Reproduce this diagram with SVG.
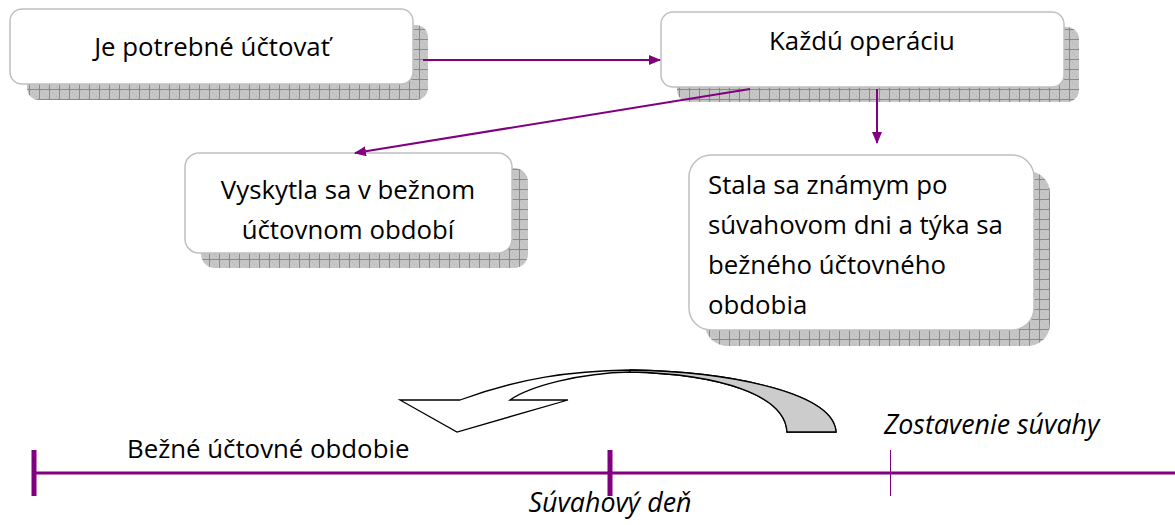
<svg xmlns="http://www.w3.org/2000/svg" width="1175" height="525" viewBox="0 0 1175 525">
  <defs>
    <!-- checked grey texture for the drop shadows -->
    <pattern id="grid" width="10" height="10" patternUnits="userSpaceOnUse">
      <rect width="10" height="10" fill="#c6c6c6"/>
      <rect x="0" y="0" width="1" height="1" fill="#b4b4b4"/>
      <rect x="2" y="2" width="1" height="1" fill="#b4b4b4"/>
      <rect x="4" y="4" width="1" height="1" fill="#b4b4b4"/>
      <rect x="6" y="6" width="1" height="1" fill="#b4b4b4"/>
      <rect x="8" y="8" width="1" height="1" fill="#b4b4b4"/>
      <path d="M0 9.5H10M9.5 0V10" stroke="#8a8a8a" stroke-width="1"/>
    </pattern>
    <marker id="ah" viewBox="0 0 12 10" refX="11" refY="5" markerWidth="12" markerHeight="10" markerUnits="userSpaceOnUse" orient="auto">
      <path d="M0 0L12 5L0 10Z" fill="#800080"/>
    </marker>
  </defs>
  <style>
    .shadow { fill: url(#grid); }
    .box { fill: #ffffff; stroke: #c0c0c0; stroke-width: 1.5; }
    .t { font-family: "Open Sans", Lato, sans-serif; font-size: 25.8px; fill: #000; }
    .c { text-anchor: middle; }
    .it { font-style: italic; font-size: 26.8px; }
    .link { stroke: #800080; stroke-width: 2; fill: none; marker-end: url(#ah); }
    .axis { stroke: #800080; fill: none; }
    .curl { stroke: #000; stroke-width: 1.3; stroke-linejoin: miter; }
  </style>

  <!-- nodes -->
  <g id="node-uctovat">
    <rect class="shadow" x="27" y="25" width="401" height="75" rx="12"/>
    <rect class="box" x="10" y="9" width="403" height="75" rx="12"/>
    <text class="t c" x="212" y="56">Je potrebné účtovať</text>
  </g>

  <g id="node-operacia">
    <rect class="shadow" x="677" y="27" width="402" height="75" rx="12"/>
    <rect class="box" x="661" y="12" width="403" height="75" rx="12"/>
    <text class="t c" x="862" y="50">Každú operáciu</text>
  </g>

  <g id="node-bezne">
    <rect class="shadow" x="201" y="168" width="327" height="100" rx="14"/>
    <rect class="box" x="185" y="153" width="327" height="100" rx="14"/>
    <text class="t c" x="348" y="199">Vyskytla sa v bežnom</text>
    <text class="t c" x="348" y="239">účtovnom období</text>
  </g>

  <g id="node-po-suvahovom">
    <rect class="shadow" x="705" y="171" width="345" height="175" rx="22"/>
    <rect class="box" x="689" y="155" width="345" height="175" rx="22"/>
    <text class="t" x="708" y="194">Stala sa známym po</text>
    <text class="t" x="708" y="234">súvahovom dni a týka sa</text>
    <text class="t" x="708" y="274">bežného účtovného</text>
    <text class="t" x="708" y="314">obdobia</text>
  </g>

  <!-- connectors -->
  <g id="connectors">
    <line class="link" x1="423" y1="60" x2="660" y2="60"/>
    <line class="link" x1="750" y1="89" x2="355" y2="153"/>
    <line class="link" x1="877" y1="89" x2="877" y2="143"/>
  </g>

  <!-- curved return arrow -->
  <g id="curl-arrow">
    <path class="curl" fill="#ffffff" d="M400 400L460 400C520 378 570 371 630 370C740 372 834 395 836 432L787 432C785 395 720 374 630 372C580 373 530 386 510 400L568 400L457 432Z"/>
    <path class="curl" fill="#cccccc" d="M630 370C740 372 834 395 836 432L787 432C785 395 720 374 630 372Z"/>
  </g>

  <!-- timeline -->
  <g id="timeline">
    <line class="axis" x1="33" y1="473" x2="1175" y2="473" stroke-width="3"/>
    <line class="axis" x1="34" y1="450" x2="34" y2="496" stroke-width="5"/>
    <line class="axis" x1="610" y1="450" x2="610" y2="496" stroke-width="5"/>
    <line class="axis" x1="890.5" y1="450" x2="890.5" y2="496" stroke-width="1"/>
    <text class="t" x="127" y="458">Bežné účtovné obdobie</text>
    <text class="t it c" x="610" y="512">Súvahový deň</text>
    <text class="t it" x="884" y="434">Zostavenie súvahy</text>
  </g>
</svg>
